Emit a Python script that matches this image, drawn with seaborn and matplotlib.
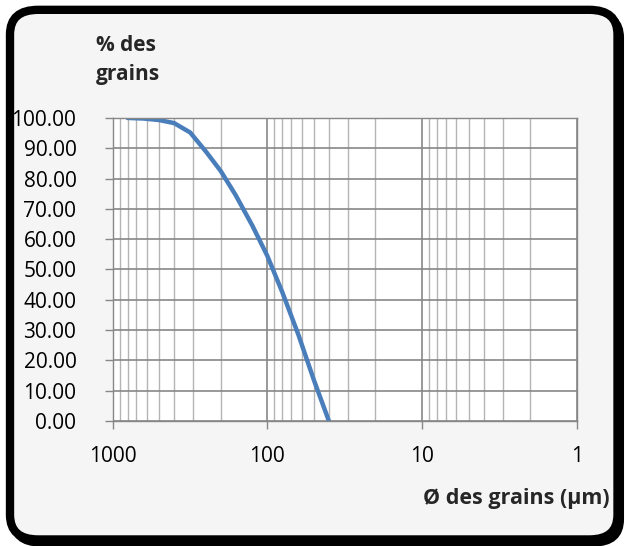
import numpy as np
import pandas as pd
import seaborn as sns
import matplotlib.pyplot as plt
from matplotlib.patches import FancyBboxPatch
from matplotlib.ticker import FixedLocator, LogLocator, NullFormatter, FormatStrFormatter

# sieve openings (µm) and cumulative % passing
diametres = [800, 630, 500, 400, 315, 250, 200, 160, 125, 100, 80, 63, 50, 40]
pct_grains = [100.0, 99.8, 99.3, 98.3, 95.2, 89.0, 82.5, 74.5, 64.5, 54.5, 42.5, 28.5, 13.5, 0.0]

x_ticks = [1000, 100, 10, 1]
y_ticks = list(range(0, 101, 10))

sns.set_style("whitegrid")
plt.rcParams['font.family'] = ['Open Sans', 'DejaVu Sans']

df = pd.DataFrame({"diametre": diametres, "pct": pct_grains})

fig = plt.figure(figsize=(6.25, 5.46), dpi=100)
fig.patch.set_facecolor("white")

# rounded chart frame with a dark shadow on the bottom right
shadow = FancyBboxPatch((0.020, 0.004), 0.974, 0.972, boxstyle="round,pad=0,rounding_size=0.045",
                        transform=fig.transFigure, facecolor="black", edgecolor="black",
                        linewidth=4, zorder=0)
frame = FancyBboxPatch((0.016, 0.012), 0.972, 0.970, boxstyle="round,pad=0,rounding_size=0.045",
                       transform=fig.transFigure, facecolor="#f5f5f5", edgecolor="black",
                       linewidth=6, zorder=1)
fig.patches.extend([shadow, frame])

ax = fig.add_axes([0.180, 0.229, 0.743, 0.555])
ax.set_zorder(2)
ax.set_facecolor("white")

sns.lineplot(data=df, x="diametre", y="pct", ax=ax, color="#4a7ebb", linewidth=3.2)

ax.set_xscale("log")
ax.set_xlim(1000, 1)
ax.set_ylim(0, 100)

ax.xaxis.set_major_locator(FixedLocator(x_ticks))
ax.xaxis.set_major_formatter(FormatStrFormatter("%d"))
ax.xaxis.set_minor_locator(LogLocator(base=10, subs=np.arange(2, 10)))
ax.xaxis.set_minor_formatter(NullFormatter())
ax.yaxis.set_major_locator(FixedLocator(y_ticks))
ax.yaxis.set_major_formatter(FormatStrFormatter("%.2f"))

ax.grid(which="major", axis="both", color="#878787", linewidth=1.2)
ax.grid(which="minor", axis="x", color="#b4b4b4", linewidth=1.0)

for side in ["top", "right", "left", "bottom"]:
    ax.spines[side].set_color("#878787")
    ax.spines[side].set_linewidth(1.0)

ax.tick_params(axis="y", which="major", left=True, length=6, width=1, color="#878787",
               pad=20, labelsize=15, labelcolor="black")
ax.tick_params(axis="x", which="major", bottom=True, length=6, width=1, color="#878787",
               pad=12, labelsize=15, labelcolor="black")
ax.tick_params(axis="x", which="minor", bottom=False)

ax.set_xlabel("")
ax.set_ylabel("")

fig.text(0.153, 0.935, "% des\ngrains", fontsize=15, fontweight="bold", ha="left", va="top",
         linespacing=1.5)
fig.text(0.976, 0.068, "Ø des grains (µm)", fontsize=15.5, fontweight="bold", ha="right", va="bottom")

fig.savefig("out.png", dpi=100, facecolor="white")
